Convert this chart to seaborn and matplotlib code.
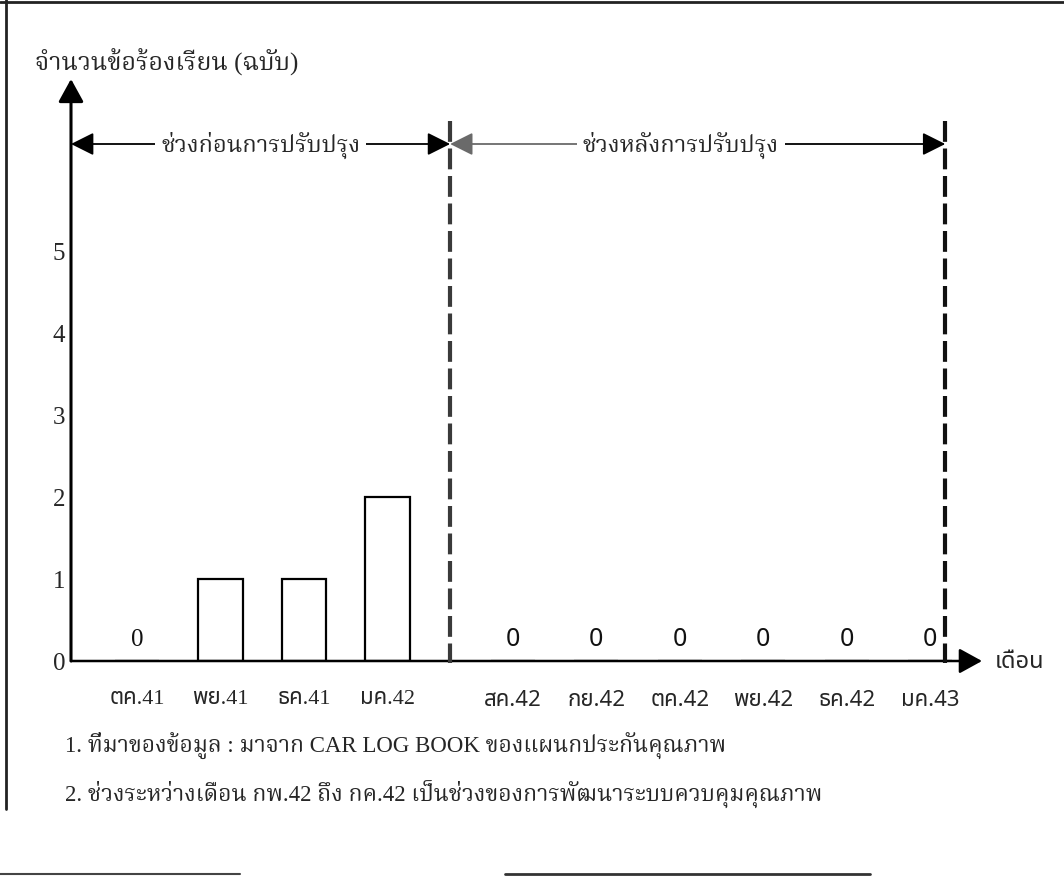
import numpy as np
import pandas as pd
import matplotlib
matplotlib.use("Agg")
import matplotlib.pyplot as plt
import seaborn as sns
from matplotlib import font_manager
from matplotlib.ft2font import FT2Font
from matplotlib.lines import Line2D

# ---------------------------------------------------------------- data
months_before = ["ตค.41", "พย.41", "ธค.41", "มค.42"]
months_after = ["สค.42", "กย.42", "ตค.42", "พย.42", "ธค.42", "มค.43"]
complaints_before = [0, 1, 1, 2]
complaints_after = [0, 0, 0, 0, 0, 0]
y_ticks = [0, 1, 2, 3, 4, 5]

y_title = "จำนวนข้อร้องเรียน (ฉบับ)"
x_title = "เดือน"
period_labels = ["ช่วงก่อนการปรับปรุง", "ช่วงหลังการปรับปรุง"]
notes = [
    "1. ที่มาของข้อมูล : มาจาก CAR LOG BOOK ของแผนกประกันคุณภาพ",
    "2. ช่วงระหว่างเดือน กพ.42 ถึง กค.42 เป็นช่วงของการพัฒนาระบบควบคุมคุณภาพ",
]


# ---------------------------------------------------------------- fonts
def thai_families():
    found = set()
    for entry in font_manager.fontManager.ttflist:
        try:
            cmap = FT2Font(entry.fname).get_charmap()
        except Exception:
            continue
        if 0x0E08 in cmap and 0x0E32 in cmap and 0x0E2D in cmap:
            found.add(entry.name)
    return found


_thai = thai_families()
_serif_pref = ["Noto Serif Thai", "Laksaman", "TH Sarabun New", "Norasi", "Kinnari",
               "Noto Sans Thai Looped", "Noto Sans Thai", "Loma", "Garuda"]
_sans_pref = ["Noto Sans Thai", "Loma", "Garuda", "Tlwg Typo", "Waree", "Umpush",
              "Noto Sans Thai Looped", "Noto Serif Thai"]
THAI_SERIF = [n for n in _serif_pref if n in _thai] + sorted(_thai - set(_serif_pref))
THAI_SANS = [n for n in _sans_pref if n in _thai] + sorted(_thai - set(_sans_pref))

SERIF = ["Liberation Serif"] + THAI_SERIF + ["DejaVu Sans"]
SANS = THAI_SANS + ["DejaVu Sans"]
MIXED = ["Liberation Serif"] + THAI_SANS + ["DejaVu Sans"]

sns.set_theme(style="white")
plt.rcParams["font.family"] = SERIF

# ---------------------------------------------------------------- layout (pixels)
W, H = 1064, 878
AXIS_X = 71          # y-axis position
CAT0_X = 137         # centre of the first month
STEP = 83.5          # spacing between months
BASE_Y = 662         # y = 0
UNIT = 82            # one complaint
TOP_Y = 40

fig = plt.figure(figsize=(W / 100, H / 100), dpi=100)
fig.patch.set_facecolor("white")

ax = fig.add_axes([AXIS_X / W, 1 - BASE_Y / H, (W - AXIS_X) / W, (BASE_Y - TOP_Y) / H])
ax.set_facecolor("none")

x_left = (AXIS_X - CAT0_X) / STEP
x_right = (W - CAT0_X) / STEP
y_top = (BASE_Y - TOP_Y) / UNIT


def px_x(p):
    return (p - CAT0_X) / STEP


def px_y(p):
    return (BASE_Y - p) / UNIT


# month positions: the gap between the two periods is half a month wider
pos = np.r_[np.arange(len(months_before)), len(months_before) + 0.5 + np.arange(len(months_after))]
df = pd.DataFrame({
    "pos": pos,
    "count": complaints_before + complaints_after,
    "month": months_before + months_after,
})
n_before = len(months_before)

sns.barplot(data=df, x="pos", y="count", native_scale=True, width=0.53,
            color="white", saturation=1, edgecolor="black", linewidth=1.6,
            errorbar=None, ax=ax, zorder=3)

ax.set_xlim(x_left, x_right)
ax.set_ylim(0, y_top)
for s in ax.spines.values():
    s.set_visible(False)
ax.grid(False)

# ticks
ax.set_xticks(df["pos"])
ax.set_xticklabels(df["month"], fontsize=16)
for i, lab in enumerate(ax.get_xticklabels()):
    lab.set_family(MIXED if i < n_before else SANS)
ax.set_yticks(y_ticks)
ax.set_yticklabels([str(v) for v in y_ticks], family=SERIF, fontsize=18)
ax.tick_params(axis="x", length=0, pad=20)
ax.tick_params(axis="y", length=0, pad=4)
ax.set_xlabel("")
ax.set_ylabel("")

# zero values written above the empty months
for i, row in df.iterrows():
    if row["count"] == 0:
        fam = SERIF if i < n_before else SANS
        ax.text(row["pos"], row["count"] + 0.27, f"{row['count']:d}", ha="center",
                va="center", fontsize=18, family=fam, color="#111", zorder=4)

# axes with arrow heads
head = dict(mutation_scale=14, shrinkA=0, shrinkB=0)
ax.annotate("", xy=(x_left, px_y(80)), xytext=(x_left, 0), annotation_clip=False,
            arrowprops=dict(arrowstyle="-|>,head_length=1.0,head_width=0.55",
                            color="black", lw=2.2, **head))
ax.annotate("", xy=(px_x(982), 0), xytext=(x_left, 0), annotation_clip=False,
            arrowprops=dict(arrowstyle="-|>,head_length=1.0,head_width=0.55",
                            color="black", lw=1.8, **head))

# period separators
sep1 = (pos[n_before - 1] + pos[n_before]) / 2
sep2 = pos[-1] + 0.18
for xs, col in ((sep1, "#3a3a3a"), (sep2, "#111111")):
    ax.plot([xs, xs], [px_y(122), -0.03], color=col, lw=3.0,
            linestyle=(0, (5, 1.6)), solid_capstyle="butt", clip_on=False, zorder=5)

# period spans
arr_y = px_y(145)
ax.annotate("", xy=(sep1, arr_y), xytext=(x_left, arr_y), annotation_clip=False,
            arrowprops=dict(arrowstyle="<|-|>,head_length=1.0,head_width=0.5",
                            color="black", lw=1.3, **head))
mid2 = (sep1 + sep2) / 2 - 0.2
ax.annotate("", xy=(sep1, arr_y), xytext=(mid2, arr_y), annotation_clip=False,
            arrowprops=dict(arrowstyle="-|>,head_length=1.0,head_width=0.5",
                            color="#6a6a6a", lw=1.3, **head))
ax.annotate("", xy=(sep2, arr_y), xytext=(mid2, arr_y), annotation_clip=False,
            arrowprops=dict(arrowstyle="-|>,head_length=1.0,head_width=0.5",
                            color="black", lw=1.3, **head))
box = dict(boxstyle="square,pad=0.25", fc="white", ec="none")
ax.text((x_left + sep1) / 2, arr_y, period_labels[0], ha="center", va="center",
        fontsize=17, family=SERIF, bbox=box, zorder=6)
ax.text(mid2, arr_y, period_labels[1], ha="center", va="center",
        fontsize=17, family=SERIF, bbox=box, zorder=6)

# axis titles
ax.text(px_x(995), 0, x_title, ha="left", va="center", fontsize=17, family=SANS)
fig.text(35 / W, 1 - 62 / H, y_title, ha="left", va="center", fontsize=18, family=SERIF)

# notes
for k, note in enumerate(notes):
    fig.text(65 / W, 1 - (745 + 50 * k) / H, note, ha="left", va="center",
             fontsize=16.5, family=SERIF)

# page frame
frame = fig.add_axes([0, 0, 1, 1], zorder=-1)
frame.set_xlim(0, W)
frame.set_ylim(H, 0)
frame.axis("off")
frame.add_line(Line2D([0, W], [3, 3], color="#222", lw=2))
frame.add_line(Line2D([6, 6], [0, 810], color="#222", lw=2))
frame.add_line(Line2D([0, 240], [875, 875], color="#444", lw=1.5))
frame.add_line(Line2D([505, 870], [875, 875], color="#333", lw=2))

fig.savefig("out.png", dpi=100, facecolor="white")
